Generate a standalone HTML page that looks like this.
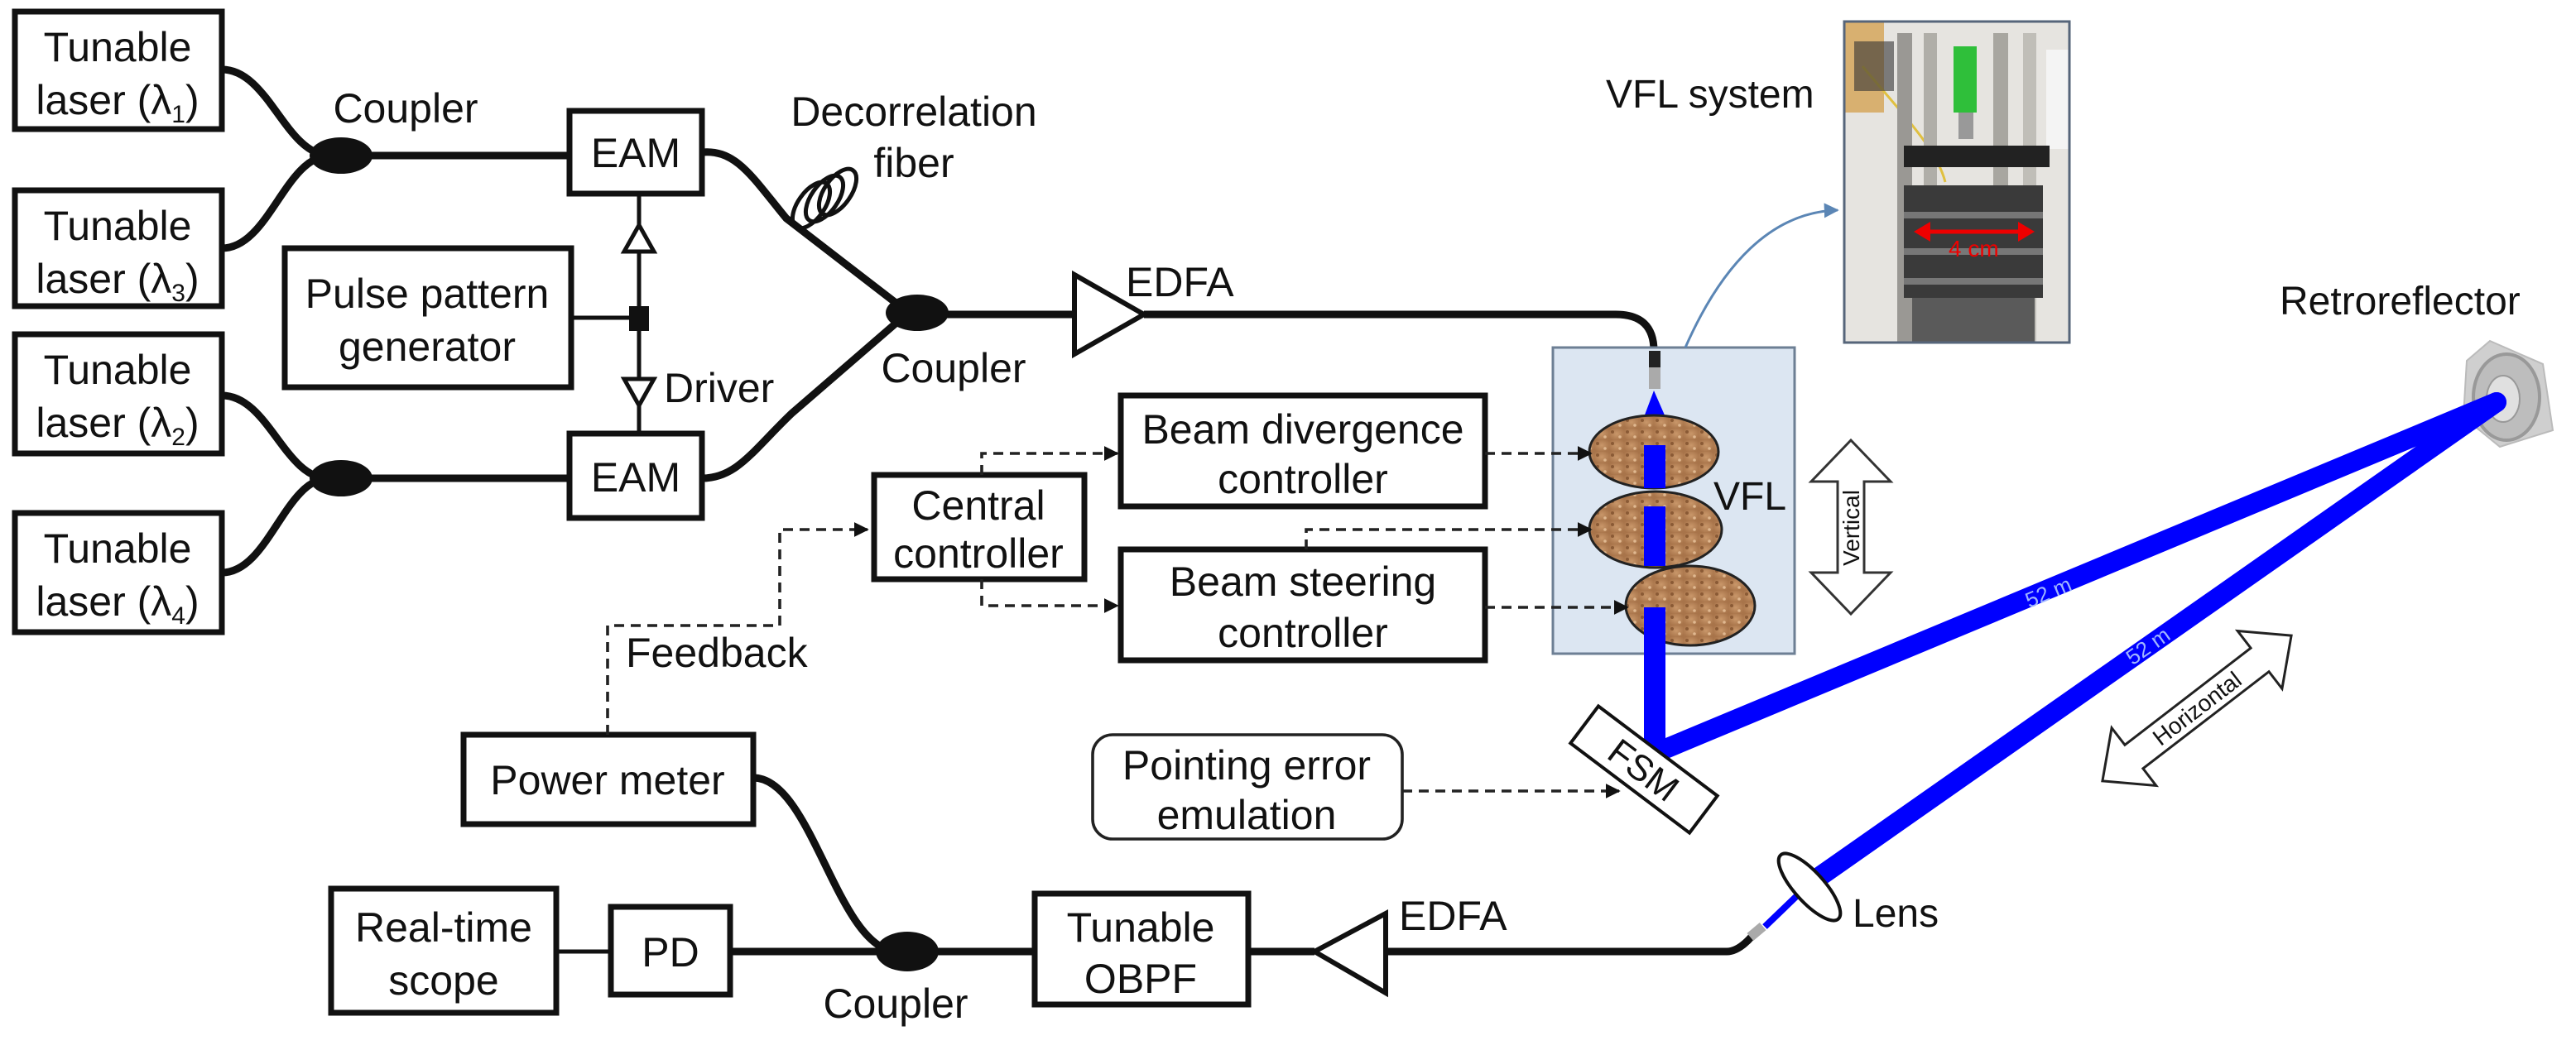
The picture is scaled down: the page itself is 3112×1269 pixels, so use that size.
<!DOCTYPE html>
<html><head><meta charset="utf-8"><style>
html,body{margin:0;padding:0;background:#fff;}
svg{display:block;}
text{font-family:"Liberation Sans",Arial,sans-serif;fill:#111;}
</style></head><body>
<svg width="3112" height="1269" viewBox="0 0 1556 634.5" xmlns="http://www.w3.org/2000/svg">
<defs>
<marker id="ah" viewBox="0 0 10 10" refX="9" refY="5" markerWidth="5" markerHeight="5" orient="auto"><path d="M0,0 L10,5 L0,10 z" fill="#111"/></marker>
<marker id="ab" viewBox="0 0 10 10" refX="9" refY="5" markerWidth="6" markerHeight="6" orient="auto"><path d="M0,0 L10,5 L0,10 z" fill="#5b86b5"/></marker>
<radialGradient id="cork" cx="50%" cy="45%" r="60%"><stop offset="0" stop-color="#c9976a"/><stop offset="1" stop-color="#a8744a"/></radialGradient>
<pattern id="spk" width="9" height="7" patternUnits="userSpaceOnUse"><rect width="9" height="7" fill="url(#cork)"/><circle cx="2" cy="2" r="1" fill="#8a5a35"/><circle cx="6.5" cy="5" r="0.9" fill="#e0b890"/></pattern>
</defs>

<!-- Lasers -->
<g fill="#fff" stroke="#111" stroke-width="3.5">
<rect x="9" y="7" width="125" height="71"/>
<rect x="9" y="115" width="125" height="70"/>
<rect x="9" y="202" width="125" height="72"/>
<rect x="9" y="310" width="125" height="72"/>
</g>
<g font-size="25" text-anchor="middle">
<text x="71" y="37">Tunable</text><text x="71" y="69">laser (λ<tspan font-size="15" dy="5">1</tspan><tspan dy="-5">)</tspan></text>
<text x="71" y="145">Tunable</text><text x="71" y="177">laser (λ<tspan font-size="15" dy="5">3</tspan><tspan dy="-5">)</tspan></text>
<text x="71" y="232">Tunable</text><text x="71" y="264">laser (λ<tspan font-size="15" dy="5">2</tspan><tspan dy="-5">)</tspan></text>
<text x="71" y="340">Tunable</text><text x="71" y="372">laser (λ<tspan font-size="15" dy="5">4</tspan><tspan dy="-5">)</tspan></text>
</g>

<!-- fibers -->
<g fill="none" stroke="#111" stroke-width="4.5">
<path d="M134,42 C162,42 172,92 198,94"/>
<path d="M134,150 C162,150 172,96 198,94"/>
<path d="M134,239 C162,239 172,289 198,289"/>
<path d="M134,346 C162,346 172,290 198,289"/>
<path d="M206,94 L344,94"/>
<path d="M206,289 L344,289"/>
<path d="M424,92 C445,90 455,108 475,132 L545,186"/>
<path d="M424,289 C445,289 455,272 478,250 L545,192"/>
<path d="M554,190 L649,190"/>
<path d="M691,190 L976,190 Q999,190 999,212 L999,222"/>
<path d="M455,470 C490,470 505,570 540,575"/>
<path d="M441,575 L625,575"/>
<path d="M754,575 L794,575"/>
<path d="M837,575 L1043,575 Q1050,575 1058,566"/>
</g>
<g stroke="#111" stroke-width="2.5"><line x1="336" y1="575" x2="369" y2="575"/></g>
<g fill="#111">
<ellipse cx="206" cy="94" rx="19" ry="11"/>
<ellipse cx="206" cy="289" rx="19" ry="11"/>
<ellipse cx="554" cy="189" rx="19" ry="11"/>
<ellipse cx="548" cy="575" rx="19" ry="12"/>
</g>
<text x="245" y="74" font-size="25" text-anchor="middle">Coupler</text>
<text x="576" y="231" font-size="25" text-anchor="middle">Coupler</text>
<text x="541" y="615" font-size="25" text-anchor="middle">Coupler</text>
<text x="552" y="76" font-size="25" text-anchor="middle">Decorrelation</text>
<text x="552" y="107" font-size="25" text-anchor="middle">fiber</text>
<!-- coil -->
<g fill="none" stroke="#111" stroke-width="2.5">
<ellipse cx="490" cy="124" rx="8" ry="16" transform="rotate(35 490 124)"/>
<ellipse cx="498" cy="120" rx="8" ry="16" transform="rotate(35 498 120)"/>
<ellipse cx="506" cy="116" rx="8" ry="16" transform="rotate(35 506 116)"/>
</g>

<!-- EAMs / PPG / Driver -->
<g fill="#fff" stroke="#111" stroke-width="3.5">
<rect x="344" y="67" width="80" height="50"/>
<rect x="344" y="262" width="80" height="51"/>
<rect x="172" y="150" width="173" height="84"/>
</g>
<g font-size="25" text-anchor="middle">
<text x="384" y="101">EAM</text><text x="384" y="297">EAM</text>
<text x="258" y="186">Pulse pattern</text><text x="258" y="218">generator</text>
</g>
<g stroke="#111" stroke-width="2.5" fill="#fff">
<line x1="386" y1="117" x2="386" y2="262"/>
<line x1="345" y1="192" x2="386" y2="192"/>
<path d="M386,136 L377,152 L395,152 Z"/>
<path d="M377,229 L395,229 L386,245 Z"/>
</g>
<rect x="380" y="185" width="12" height="15" fill="#111"/>
<text x="401" y="243" font-size="25">Driver</text>

<!-- EDFA top -->
<path d="M649,166 L691,190 L649,214 Z" fill="#fff" stroke="#111" stroke-width="3"/>
<text x="680" y="179" font-size="25">EDFA</text>

<!-- Controllers -->
<g fill="#fff" stroke="#111" stroke-width="3.5">
<rect x="677" y="239" width="220" height="67"/>
<rect x="677" y="332" width="220" height="67"/>
<rect x="528" y="287" width="127" height="63"/>
<rect x="280" y="444" width="175" height="54"/>
<rect x="200" y="537" width="136" height="75"/>
<rect x="369" y="548" width="72" height="53"/>
<rect x="625" y="540" width="129" height="67"/>
</g>
<rect x="660" y="444" width="187" height="63" rx="12" fill="#fff" stroke="#222" stroke-width="1.8"/>
<g font-size="25" text-anchor="middle">
<text x="787" y="268">Beam divergence</text><text x="787" y="298">controller</text>
<text x="787" y="360">Beam steering</text><text x="787" y="391">controller</text>
<text x="591" y="314">Central</text><text x="591" y="343">controller</text>
<text x="367" y="480">Power meter</text>
<text x="268" y="569">Real-time</text><text x="268" y="601">scope</text>
<text x="405" y="584">PD</text>
<text x="689" y="569">Tunable</text><text x="689" y="600">OBPF</text>
<text x="753" y="471">Pointing error</text><text x="753" y="501">emulation</text>
</g>
<text x="378" y="403" font-size="25">Feedback</text>

<!-- VFL box -->
<rect x="938" y="210" width="146" height="185" fill="#dce6f2" stroke="#6d7f94" stroke-width="1.5"/>
<rect x="996" y="212" width="7" height="11" fill="#222"/>
<rect x="996" y="222" width="7" height="13" fill="#aaa"/>
<path d="M993,252 L999,236 L1006,252 Z" fill="#0000ff"/>
<g stroke="#222" stroke-width="1.5" fill="url(#spk)">
<ellipse cx="999" cy="273" rx="39" ry="22"/>
<ellipse cx="1000" cy="320" rx="40" ry="23"/>
<ellipse cx="1021" cy="366" rx="39" ry="24"/>
</g>
<g fill="#0000ff">
<rect x="993" y="269" width="13" height="26"/>
<rect x="993" y="306" width="13" height="36"/>
<rect x="993" y="367" width="13" height="90"/>
</g>
<text x="1035" y="308" font-size="24">VFL</text>

<!-- dashed -->
<g fill="none" stroke="#222" stroke-width="1.8" stroke-dasharray="6,4">
<path d="M367,444 L367,378 L471,378 L471,320 L524,320" marker-end="url(#ah)"/>
<path d="M593,287 L593,274 L675,274" marker-end="url(#ah)"/>
<path d="M593,350 L593,366 L675,366" marker-end="url(#ah)"/>
<path d="M897,274 L961,274" marker-end="url(#ah)"/>
<path d="M789,332 L789,320 L961,320" marker-end="url(#ah)"/>
<path d="M897,367 L983,367" marker-end="url(#ah)"/>
<path d="M847,478 L978,478" marker-end="url(#ah)"/>
</g>

<!-- vertical arrow -->
<path d="M1118,266 L1142,291 L1126,291 L1126,346 L1142,346 L1118,371 L1094,346 L1110,346 L1110,291 L1094,291 Z" fill="#fff" stroke="#333" stroke-width="1.5"/>
<text x="0" y="0" font-size="14" text-anchor="middle" transform="translate(1123,319) rotate(-90)">Vertical</text>

<!-- retroreflector -->
<g transform="translate(1514,238)">
<path d="M-10,-32 L22,-18 L28,22 L-4,32 L-26,14 L-24,-20 Z" fill="#cfcfcf" stroke="#bbb"/>
<ellipse cx="0" cy="2" rx="20" ry="26" fill="#bdbdbd" stroke="#999" stroke-width="2"/>
<ellipse cx="-2" cy="3" rx="10" ry="14" fill="#e0e0e0" stroke="#999"/>
</g>
<!-- beams -->
<line x1="1000" y1="455" x2="1508" y2="243" stroke="#0000ff" stroke-width="12" stroke-linecap="round"/>
<line x1="1093" y1="534" x2="1508" y2="243" stroke="#0000ff" stroke-width="12" stroke-linecap="round"/>
<path d="M1066,560 L1093,534" stroke="#0000ff" stroke-width="4"/>
<text x="0" y="0" font-size="13" text-anchor="middle" transform="translate(1239,362) rotate(-22.6)" style="fill:#9fb4ff">52 m</text>
<text x="0" y="0" font-size="13" text-anchor="middle" transform="translate(1300,394) rotate(-35)" style="fill:#9fb4ff">52 m</text>
<text x="1377" y="190" font-size="24">Retroreflector</text>

<!-- FSM -->
<g transform="translate(993,465) rotate(37)">
<rect x="-45" y="-14" width="90" height="28" fill="#fff" stroke="#111" stroke-width="2"/>
<text x="0" y="8" font-size="22" text-anchor="middle">FSM</text>
</g>

<!-- horizontal arrow -->
<g transform="translate(1327,428) rotate(-37.6)">
<path d="M-72,0 L-48,-22 L-48,-9 L48,-9 L48,-22 L72,0 L48,22 L48,9 L-48,9 L-48,22 Z" fill="#fff" stroke="#222" stroke-width="1.5"/>
<text x="0" y="5" font-size="14" text-anchor="middle">Horizontal</text>
</g>

<!-- lens -->
<ellipse cx="1093" cy="536" rx="9" ry="26" transform="rotate(-42 1093 536)" fill="#fff" stroke="#111" stroke-width="2"/>
<rect x="1056" y="560" width="10" height="6" fill="#aaa" transform="rotate(-40 1061 563)"/>
<text x="1119" y="560" font-size="24">Lens</text>

<!-- bottom EDFA -->
<path d="M837,552 L794,575 L837,600 Z" fill="#fff" stroke="#111" stroke-width="3"/>
<text x="845" y="562" font-size="25">EDFA</text>

<!-- VFL system photo -->
<text x="970" y="65" font-size="24">VFL system</text>
<path d="M1018,210 C1040,160 1070,128 1110,127" fill="none" stroke="#5b86b5" stroke-width="1.5" marker-end="url(#ab)"/>
<g>
<rect x="1114" y="13" width="136" height="194" fill="#e6e4e0"/>
<rect x="1114" y="13" width="24" height="55" fill="#d8b070"/>
<path d="M1125,40 C1150,70 1170,90 1175,110" stroke="#e0c040" stroke-width="1.5" fill="none"/>
<rect x="1120" y="25" width="24" height="30" fill="#333" opacity="0.6"/>
<rect x="1146" y="20" width="9" height="187" fill="#9a9894"/>
<rect x="1162" y="20" width="8" height="187" fill="#b0aea8"/>
<rect x="1204" y="20" width="9" height="187" fill="#a8a6a0"/>
<rect x="1222" y="20" width="8" height="187" fill="#c0beb8"/>
<rect x="1236" y="30" width="14" height="60" fill="#f4f4f4"/>
<rect x="1180" y="28" width="14" height="40" fill="#2fbf3a"/>
<rect x="1183" y="68" width="9" height="16" fill="#999"/>
<rect x="1150" y="88" width="88" height="13" fill="#222"/>
<rect x="1150" y="112" width="84" height="68" fill="#3a3a3a"/>
<rect x="1150" y="128" width="84" height="4" fill="#777"/>
<rect x="1150" y="150" width="84" height="4" fill="#777"/>
<rect x="1150" y="168" width="84" height="4" fill="#777"/>
<rect x="1155" y="180" width="74" height="27" fill="#5a5a5a"/>
<line x1="1163" y1="140" x2="1222" y2="140" stroke="#e00" stroke-width="2.5"/>
<path d="M1166,134 L1156,140 L1166,146 Z" fill="#e00"/>
<path d="M1219,134 L1229,140 L1219,146 Z" fill="#e00"/>
<text x="1177" y="155" font-size="14" style="fill:#e00">4 cm</text>
<rect x="1114" y="13" width="136" height="194" fill="none" stroke="#56657a" stroke-width="1.5"/>
</g>
</svg>
</body></html>
